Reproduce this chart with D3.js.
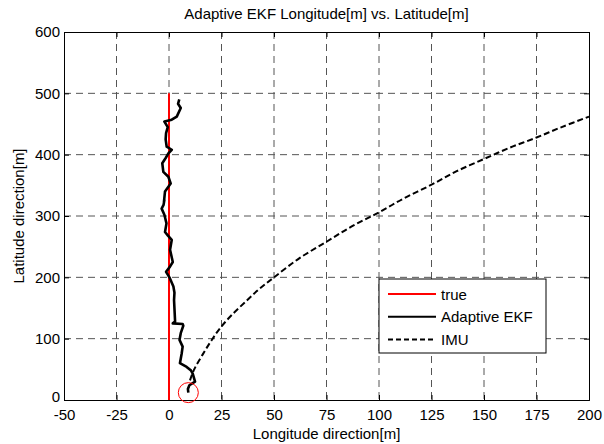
<!DOCTYPE html>
<html>
<head>
<meta charset="utf-8">
<script src="https://cdn.jsdelivr.net/npm/d3@7"></script>
<style>
  body { margin: 0; background: #fff; }
  text { font-family: "Liberation Sans", Arial, sans-serif; }
</style>
</head>
<body>
<div id="chart"></div>
<script>
// values
var xTicks = [-50, -25, 0, 25, 50, 75, 100, 125, 150, 175, 200];
var yTicks = [0, 100, 200, 300, 400, 500, 600];

var trueLon = [0, 0];
var trueLat = [0, 500];

var ekfLon = [9.2, 9.0, 9.7, 12.4, 11.3, 10.5, 8.4, 5.2, 6.0, 6.5, 5.0, 5.6, 6.8, 6.5, 1.8, 2.9, 2.4, 2.6, 2.1,
  0.2, -1.4, 0.4, 1.8, 0.5, 1.3, -0.5, -1.9, -1.2, -2.2, -3.5, -2.6, -2.2, -2.4, -1.9, 0.8, -0.3, -2.7, -3.2,
  -1.5, -0.3, 1.3, -1.1, -1.6, -1.4, -0.6, -2.2, 1.3, 3.7, 5.6, 4.3, 4.9];
var ekfLat = [12, 18, 24, 30, 43, 48, 54, 60, 75, 87, 98, 109, 121, 124, 125, 128, 163, 175, 185,
  200, 209, 217, 225, 245, 261, 268, 274, 288, 302, 312, 318, 326, 323, 340, 353, 364, 372, 386,
  395, 402, 408, 413, 425, 435, 445, 454, 457, 462, 476, 483, 490];

var imuLon = [10, 12, 16, 20, 24.3, 30, 37, 43, 50, 62, 75, 87, 100, 112, 125, 137, 150, 162, 175, 187, 200];
var imuLat = [32, 50, 74, 96, 117, 139, 162, 181, 200, 231, 258, 283, 306, 329, 351, 373, 393, 411, 428, 445, 462];

var circleLon = 9.2, circleLat = 12;

var W = 604, H = 444;
var margin = { top: 32, right: 15, bottom: 44, left: 64 };
var width = 589 - margin.left;
var height = 400 - margin.top;
var fontSize = 15;

var svg = d3.select("#chart").append("svg")
  .attr("width", W)
  .attr("height", H);

var g = svg.append("g")
  .attr("transform", "translate(" + margin.left + "," + margin.top + ")");

var x = d3.scaleLinear().domain([-50, 200]).range([0, width]);
var y = d3.scaleLinear().domain([0, 600]).range([height, 0]);

// grid
g.append("g").selectAll("line")
  .data(xTicks.slice(1, -1))
  .enter().append("line")
  .attr("x1", function (d) { return x(d); })
  .attr("x2", function (d) { return x(d); })
  .attr("y1", 0).attr("y2", height)
  .attr("stroke", "#555").attr("stroke-width", 1)
  .attr("stroke-dasharray", "7,5");

g.append("g").selectAll("line")
  .data(yTicks.slice(1, -1))
  .enter().append("line")
  .attr("y1", function (d) { return y(d); })
  .attr("y2", function (d) { return y(d); })
  .attr("x1", 0).attr("x2", width)
  .attr("stroke", "#555").attr("stroke-width", 1)
  .attr("stroke-dasharray", "7,5");

// axes (inward ticks, box); plain hyphen minus like the reference
var fmt = function (d) { return String(d); };
var xAxis = g.append("g")
  .attr("transform", "translate(0," + height + ")")
  .call(d3.axisBottom(x).tickValues(xTicks).tickSize(-5).tickPadding(9).tickFormat(fmt));
var xAxisTop = g.append("g")
  .call(d3.axisTop(x).tickValues(xTicks).tickSize(-5).tickFormat(""));
var yAxis = g.append("g")
  .call(d3.axisLeft(y).tickValues(yTicks).tickSize(-5).tickPadding(4).tickFormat(fmt));
var yAxisRight = g.append("g")
  .attr("transform", "translate(" + width + ",0)")
  .call(d3.axisRight(y).tickValues(yTicks).tickSize(-5).tickFormat(""));

[xAxis, xAxisTop, yAxis, yAxisRight].forEach(function (a) {
  a.select(".domain").attr("stroke", "#000").attr("stroke-width", 1);
  a.selectAll(".tick line").attr("stroke", "#000");
  a.selectAll("text").attr("font-size", fontSize).attr("fill", "#000")
    .style("font-family", "'Liberation Sans', Arial, sans-serif");
});
// lowest y label sits a touch above the axis, as in the reference
yAxis.selectAll(".tick text").filter(function (d) { return d === 0; }).attr("dy", "0.1em");

var line = d3.line()
  .x(function (d) { return x(d[0]); })
  .y(function (d) { return y(d[1]); });

// true
g.append("path")
  .datum(d3.zip(trueLon, trueLat))
  .attr("d", line)
  .attr("fill", "none").attr("stroke", "#ff0000").attr("stroke-width", 2);

// IMU
g.append("path")
  .datum(d3.zip(imuLon, imuLat))
  .attr("d", d3.line().curve(d3.curveCatmullRom)
    .x(function (d) { return x(d[0]); })
    .y(function (d) { return y(d[1]); }))
  .attr("fill", "none").attr("stroke", "#000").attr("stroke-width", 2)
  .attr("stroke-dasharray", "6,3");

// Adaptive EKF
g.append("path")
  .datum(d3.zip(ekfLon, ekfLat))
  .attr("d", line)
  .attr("fill", "none").attr("stroke", "#000").attr("stroke-width", 2.6)
  .attr("stroke-linejoin", "round");

// start marker
g.append("circle")
  .attr("cx", x(circleLon)).attr("cy", y(circleLat)).attr("r", 10)
  .attr("fill", "none").attr("stroke", "#ff0000").attr("stroke-width", 1);

// title and labels
svg.append("text")
  .attr("x", margin.left + width / 2).attr("y", 19)
  .attr("text-anchor", "middle").attr("font-size", fontSize)
  .text("Adaptive EKF Longitude[m] vs. Latitude[m]");

svg.append("text")
  .attr("x", margin.left + width / 2).attr("y", 439)
  .attr("text-anchor", "middle").attr("font-size", fontSize)
  .text("Longitude direction[m]");

svg.append("text")
  .attr("transform", "translate(24," + (margin.top + height / 2) + ") rotate(-90)")
  .attr("text-anchor", "middle").attr("font-size", fontSize)
  .text("Latitude direction[m]");

// legend
var legendItems = [
  { name: "true", color: "#ff0000", dash: null, w: 2 },
  { name: "Adaptive EKF", color: "#000", dash: null, w: 2 },
  { name: "IMU", color: "#000", dash: "5,3", w: 2 }
];
var lg = svg.append("g").attr("transform", "translate(379,279)");
lg.append("rect")
  .attr("width", 167).attr("height", 74)
  .attr("fill", "#fff").attr("stroke", "#000").attr("stroke-width", 1);
legendItems.forEach(function (it, i) {
  var yy = 15 + i * 22.7;
  lg.append("line")
    .attr("x1", 9).attr("x2", 57).attr("y1", yy).attr("y2", yy)
    .attr("stroke", it.color).attr("stroke-width", it.w)
    .attr("stroke-dasharray", it.dash);
  lg.append("text")
    .attr("x", 62).attr("y", yy + 5.5)
    .attr("font-size", fontSize)
    .text(it.name);
});
</script>
</body>
</html>
